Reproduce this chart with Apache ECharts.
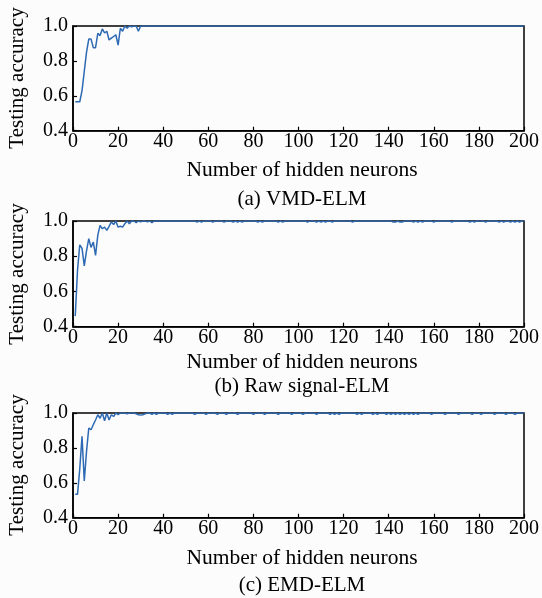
<!DOCTYPE html>
<html>
<head>
<meta charset="utf-8">
<script src="https://cdn.jsdelivr.net/npm/echarts@6/dist/echarts.min.js"></script>
<style>
html,body{margin:0;padding:0;background:#fcfcfc;}
#chart{width:542px;height:598px;}
</style>
</head>
<body>
<div id="chart"></div>
<script>
// x values: number of hidden neurons 1..200
var neurons = [];
for (var i = 1; i <= 200; i++) neurons.push(i);

var xTicks = [0, 20, 40, 60, 80, 100, 120, 140, 160, 180, 200];
var yTicks = [0.4, 0.6, 0.8, 1.0];

var panelTitles = ['(a) VMD-ELM', '(b) Raw signal-ELM', '(c) EMD-ELM'];
var xTitle = 'Number of hidden neurons';
var yTitle = 'Testing accuracy';

var vmdElm = [
0.566,0.566,0.566,0.63,0.74,0.85,0.925,0.925,0.876,0.876,0.958,0.945,0.983,0.96,0.97,0.92,0.93,0.94,0.95,0.89,
0.987,0.97,1.0,0.987,1.0,0.995,1.0,1.0,0.97,1.0,1.0,1.0,1.0,1.0,1.0,1.0,1.0,1.0,1.0,1.0,
1.0,1.0,1.0,1.0,1.0,1.0,1.0,1.0,1.0,1.0,1.0,1.0,1.0,1.0,1.0,1.0,1.0,1.0,1.0,1.0,
1.0,1.0,1.0,1.0,1.0,1.0,1.0,1.0,1.0,1.0,1.0,1.0,1.0,1.0,1.0,1.0,1.0,1.0,1.0,1.0,
1.0,1.0,1.0,1.0,1.0,1.0,1.0,1.0,1.0,1.0,1.0,1.0,1.0,1.0,1.0,1.0,1.0,1.0,1.0,1.0,
1.0,1.0,1.0,1.0,1.0,1.0,1.0,1.0,1.0,1.0,1.0,1.0,1.0,1.0,1.0,1.0,1.0,1.0,1.0,1.0,
1.0,1.0,1.0,1.0,1.0,1.0,1.0,1.0,1.0,1.0,1.0,1.0,1.0,1.0,1.0,1.0,1.0,1.0,1.0,1.0,
1.0,1.0,1.0,1.0,1.0,1.0,1.0,1.0,1.0,1.0,1.0,1.0,1.0,1.0,1.0,1.0,1.0,1.0,1.0,1.0,
1.0,1.0,1.0,1.0,1.0,1.0,1.0,1.0,1.0,1.0,1.0,1.0,1.0,1.0,1.0,1.0,1.0,1.0,1.0,1.0,
1.0,1.0,1.0,1.0,1.0,1.0,1.0,1.0,1.0,1.0,1.0,1.0,1.0,1.0,1.0,1.0,1.0,1.0,1.0,1.0
];

var rawElm = [
0.46,0.72,0.865,0.845,0.745,0.83,0.90,0.85,0.88,0.805,0.92,0.975,0.956,0.965,0.947,0.97,0.995,0.98,1.0,0.965,
0.97,0.965,0.985,1.0,0.985,1.0,1.0,0.99,1.0,0.995,1.0,1.0,0.995,1.0,0.99,1.0,1.0,1.0,1.0,1.0,
1.0,1.0,1.0,1.0,1.0,1.0,1.0,1.0,1.0,1.0,1.0,1.0,1.0,1.0,0.994,1.0,0.994,1.0,1.0,1.0,
1.0,0.994,1.0,1.0,1.0,1.0,0.994,1.0,1.0,1.0,0.994,1.0,0.994,1.0,0.994,1.0,1.0,1.0,1.0,1.0,
1.0,0.994,1.0,0.994,1.0,1.0,1.0,1.0,1.0,1.0,0.994,1.0,0.994,1.0,1.0,1.0,1.0,1.0,1.0,1.0,
1.0,1.0,1.0,0.994,1.0,1.0,1.0,0.994,1.0,0.994,1.0,0.994,1.0,1.0,0.994,1.0,1.0,1.0,1.0,1.0,
1.0,1.0,1.0,0.994,1.0,1.0,1.0,1.0,1.0,1.0,1.0,1.0,1.0,1.0,1.0,1.0,1.0,1.0,1.0,1.0,
1.0,0.994,0.994,1.0,0.994,0.994,1.0,1.0,1.0,1.0,0.994,1.0,0.994,1.0,0.994,1.0,1.0,1.0,1.0,0.994,
1.0,1.0,1.0,1.0,1.0,1.0,1.0,0.994,1.0,1.0,1.0,1.0,1.0,1.0,1.0,0.994,1.0,0.994,1.0,1.0,
1.0,1.0,0.994,1.0,1.0,1.0,1.0,1.0,0.994,1.0,0.994,1.0,1.0,0.994,1.0,0.994,1.0,0.994,1.0,1.0
];

var emdElm = [
0.534,0.534,0.68,0.866,0.61,0.78,0.914,0.904,0.933,0.96,0.99,0.97,1.0,0.956,1.0,0.96,0.99,0.98,1.0,0.99,
1.0,1.0,1.0,0.995,1.0,1.0,1.0,0.995,0.99,0.988,0.99,0.995,1.0,1.0,0.993,1.0,0.993,1.0,1.0,1.0,
1.0,0.993,1.0,0.993,1.0,1.0,1.0,1.0,1.0,1.0,1.0,1.0,1.0,0.993,1.0,1.0,1.0,1.0,0.993,1.0,
1.0,1.0,1.0,0.993,1.0,1.0,1.0,0.993,1.0,1.0,1.0,1.0,0.993,1.0,1.0,1.0,1.0,1.0,1.0,0.993,
1.0,1.0,1.0,1.0,0.993,1.0,1.0,1.0,1.0,1.0,0.993,1.0,1.0,1.0,1.0,1.0,0.993,1.0,1.0,1.0,
1.0,0.993,1.0,1.0,1.0,1.0,1.0,0.993,1.0,1.0,1.0,1.0,1.0,0.993,1.0,0.993,1.0,0.993,1.0,1.0,
1.0,1.0,1.0,1.0,1.0,0.993,1.0,0.993,1.0,1.0,1.0,1.0,0.993,1.0,0.993,1.0,1.0,1.0,0.993,1.0,
0.993,1.0,0.993,1.0,0.993,1.0,0.993,1.0,0.993,1.0,0.993,1.0,0.993,1.0,1.0,1.0,1.0,1.0,0.993,1.0,
1.0,1.0,1.0,1.0,0.993,1.0,1.0,1.0,1.0,1.0,0.993,1.0,1.0,1.0,1.0,1.0,0.993,1.0,1.0,1.0,
0.993,1.0,1.0,1.0,1.0,1.0,0.993,1.0,1.0,1.0,1.0,0.993,1.0,1.0,1.0,0.993,1.0,1.0,1.0,1.0
];

var seriesData = [vmdElm, rawElm, emdElm];

var FONT = '"Liberation Serif", "Times New Roman", serif';
var gridTops = [26, 221, 413];
var gridHeights = [104.7, 105.7, 104.7];
var xTitleY = [170, 362, 558];
var subTitleY = [199, 386, 585];
var yTitleY = [78, 274, 465];

var grids = [], xAxes = [], yAxes = [], series = [], graphics = [];
for (var k = 0; k < 3; k++) {
  grids.push({left: 73, right: 14, top: gridTops[k], height: gridHeights[k],
    show: true, borderColor: '#000', borderWidth: 1.5, backgroundColor: 'transparent'});
  xAxes.push({
    type: 'value', gridIndex: k, min: xTicks[0], max: xTicks[xTicks.length - 1], interval: 20,
    axisLine: {show: true, lineStyle: {color: '#000', width: 1.5}},
    axisTick: {show: true, inside: true, length: 4, lineStyle: {color: '#000', width: 1.2}},
    axisLabel: {fontFamily: FONT, fontSize: 20, color: '#000', margin: 1},
    splitLine: {show: false}
  });
  yAxes.push({
    type: 'value', gridIndex: k, min: yTicks[0], max: yTicks[yTicks.length - 1], interval: 0.2,
    axisLine: {show: true, lineStyle: {color: '#000', width: 1.5}},
    axisTick: {show: true, inside: true, length: 4, lineStyle: {color: '#000', width: 1.2}},
    axisLabel: {fontFamily: FONT, fontSize: 20, color: '#000', margin: 5,
      formatter: function (v) { return v.toFixed(1); }},
    splitLine: {show: false}
  });
  var d = seriesData[k].map(function (v, i) { return [neurons[i], v]; });
  series.push({
    type: 'line', xAxisIndex: k, yAxisIndex: k, data: d, showSymbol: false,
    lineStyle: {color: '#2e6ab4', width: 1.5}, itemStyle: {color: '#2e6ab4'},
    animation: false, z: 3
  });
  graphics.push({type: 'text', x: 302, y: xTitleY[k],
    style: {text: xTitle, font: '21.5px ' + FONT, fill: '#000', textAlign: 'center', textVerticalAlign: 'middle'}});
  graphics.push({type: 'text', x: 302, y: subTitleY[k],
    style: {text: panelTitles[k], font: '21px ' + FONT, fill: '#000', textAlign: 'center', textVerticalAlign: 'middle'}});
  graphics.push({type: 'text', x: 17, y: yTitleY[k], rotation: Math.PI / 2,
    style: {text: yTitle, font: '21px ' + FONT, fill: '#000', textAlign: 'center', textVerticalAlign: 'middle'}});
}

var chart = echarts.init(document.getElementById('chart'), null, {renderer: 'canvas'});
chart.setOption({
  backgroundColor: '#fcfcfc',
  animation: false,
  grid: grids, xAxis: xAxes, yAxis: yAxes, series: series, graphic: graphics
});
</script>
</body>
</html>
